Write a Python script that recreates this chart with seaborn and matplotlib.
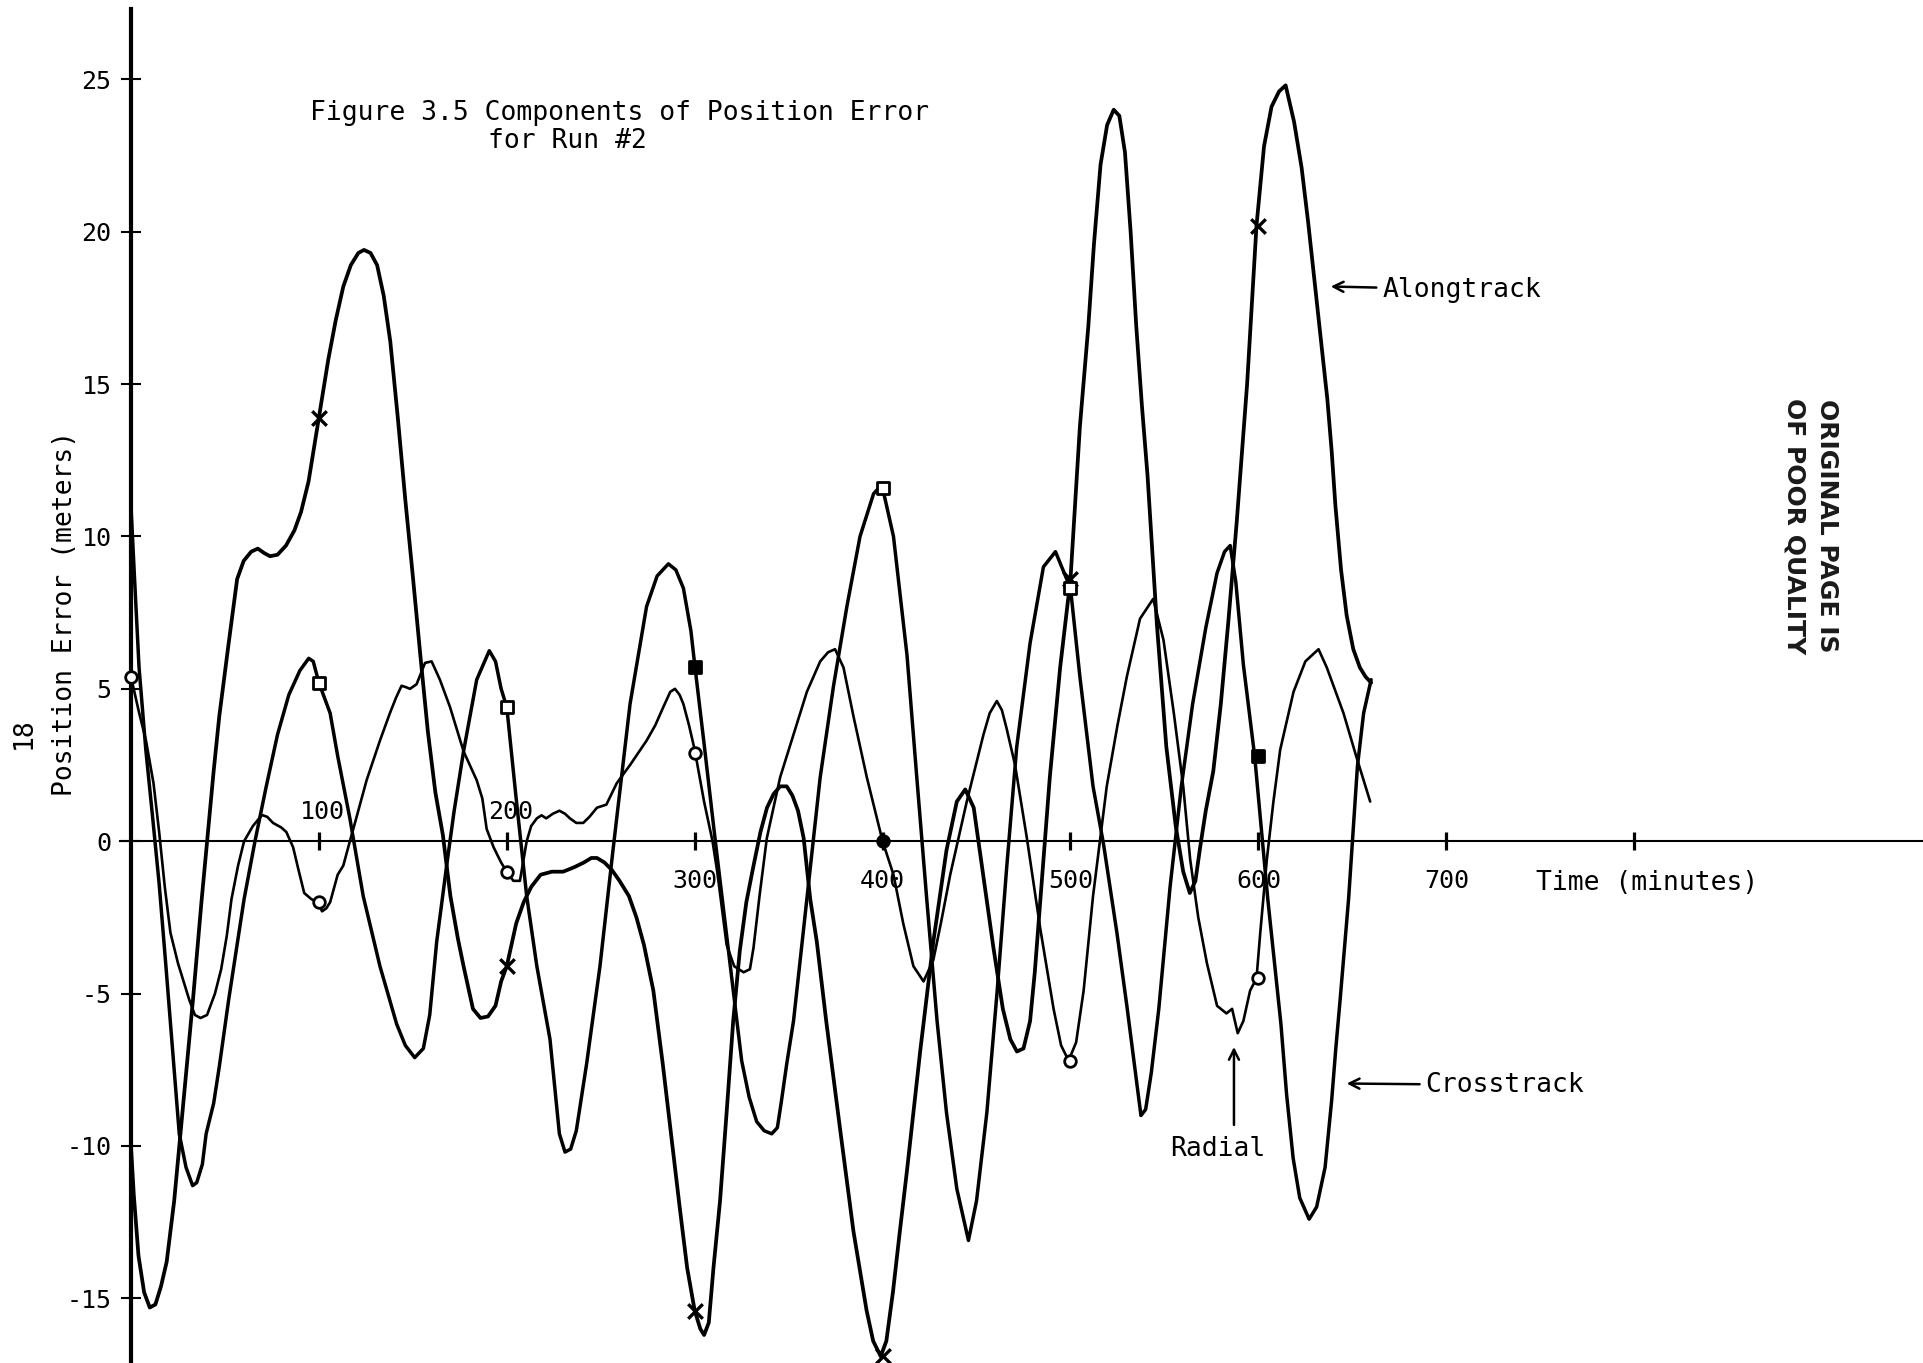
import matplotlib
matplotlib.use("Agg")
import matplotlib.pyplot as plt
import seaborn as sns

# ---------------- data ----------------
# Alongtrack component (x markers)
along_t = [0, 1.5, 4, 7, 10, 13, 16, 19, 23, 28, 33, 37.5, 40.5, 44, 47, 52, 56.5, 60, 64, 67.5,
           71, 74, 78, 82.5, 87, 90.5, 94.5, 100, 105, 109, 113, 117, 121, 124, 127.5, 131, 134.5,
           138, 142, 146, 150, 154, 158, 162, 166, 170, 174, 177, 182, 186, 190, 194, 197, 200,
           205, 209, 213, 218, 224, 230, 236, 241, 245, 248, 252, 256, 260, 265, 269, 273, 278,
           283, 288, 292, 296, 300, 303, 305, 307.5, 310, 313.5, 317, 320.5, 324, 327.5, 331, 335,
           338.5, 342, 345.5, 349, 352, 355, 358, 361.5, 365, 370, 377.5, 384.5, 391.5, 395, 399,
           402, 405.5, 409, 413, 420, 427, 434, 439.5, 444, 448.5, 453.5, 459, 464, 468, 471.5,
           475, 478.5, 481, 484, 489, 494.5, 500, 505, 509.5, 512.5, 516, 519.5, 523, 526, 529,
           532, 535, 538, 541, 546, 551, 556, 560, 563.5, 566.5, 569, 572, 576, 580, 584, 588.5,
           594, 599, 603, 607, 611, 614.5, 619, 623, 626.5, 630, 633, 636.7, 639, 641, 644, 647,
           650.5, 654, 657, 660]
along_y = [-10.0, -11.6, -13.6, -14.8, -15.3, -15.2, -14.6, -13.8, -11.8, -8.5, -5.2, -2.0, 0.0,
           2.3, 4.1, 6.5, 8.6, 9.2, 9.5, 9.6, 9.45, 9.35, 9.4, 9.7, 10.2, 10.8, 11.8, 13.9, 15.8,
           17.1, 18.2, 18.9, 19.3, 19.4, 19.3, 18.9, 17.9, 16.4, 13.9, 11.2, 8.7, 6.1, 3.6, 1.6,
           0.2, -1.8, -3.2, -4.1, -5.5, -5.8, -5.75, -5.4, -4.6, -4.1, -2.7, -2.0, -1.5, -1.1,
           -1.0, -1.0, -0.85, -0.7, -0.55, -0.55, -0.7, -0.95, -1.3, -1.8, -2.5, -3.4, -4.9, -7.3,
           -9.9, -12.0, -14.0, -15.4, -16.0, -16.2, -15.8, -14.0, -11.8, -8.9, -5.9, -3.6, -2.0,
           -0.9, 0.3, 1.1, 1.55, 1.8, 1.8, 1.5, 1.0, 0.1, -1.9, -3.3, -5.9, -9.5, -12.8, -15.4,
           -16.4, -16.9, -16.4, -14.8, -12.9, -10.8, -6.9, -3.3, -0.3, 1.3, 1.7, 1.1, -1.1, -3.5,
           -5.5, -6.5, -6.9, -6.8, -5.9, -4.3, -1.9, 2.1, 5.7, 8.6, 13.6, 16.9, 19.6, 22.2, 23.5,
           24.0, 23.8, 22.6, 20.0, 16.9, 14.3, 12.0, 7.1, 3.1, 0.5, -1.0, -1.7, -1.3, -0.2, 1.0,
           2.3, 4.5, 7.2, 10.5, 15.0, 20.2, 22.8, 24.1, 24.6, 24.8, 23.6, 22.1, 20.3, 18.3, 16.6,
           14.5, 12.8, 11.0, 8.9, 7.4, 6.3, 5.7, 5.4, 5.2]

# Crosstrack component (square markers)
cross_t = [0, 2, 4.3, 7.9, 11.5, 15, 18.6, 22.2, 25.7, 29.3, 32.8, 35, 38, 40, 44, 47, 52, 56,
           60.2, 66, 72, 78, 84, 89.9, 94.6, 97, 100, 103, 106, 110, 116.5, 123.6, 132.5, 141.4,
           146, 151, 155.6, 159, 162.7, 168, 172, 177, 184, 190.7, 194, 197, 200, 205, 210.6,
           216, 223, 228, 231, 234, 237, 242.5, 249.6, 256.7, 265.6, 274.4, 280, 286, 290, 294,
           298, 300, 305, 311, 318, 325, 329, 333, 337, 341, 344, 346, 349, 352.6, 359.7, 366.8,
           373.9, 381, 388, 395.2, 399.6, 405.8, 413, 418.2, 423.5, 429, 434, 439.5, 445.7, 450,
           455.5, 461, 466, 471.4, 478.5, 485.6, 492, 498, 500, 505, 512, 517.6, 524.7, 530, 535,
           537.5, 540, 543, 547, 553, 559, 565, 572, 578, 582, 585, 588, 592, 598, 605, 612, 615,
           618.5, 622, 627, 631, 635.5, 639, 641.2, 643.5, 648, 652.7, 656, 660]
cross_y = [11.0, 8.5, 5.7, 3.0, 0.8, -1.4, -4.1, -6.9, -9.6, -10.7, -11.3, -11.2, -10.6, -9.6,
           -8.6, -7.4, -5.2, -3.6, -1.9, 0.0, 1.8, 3.5, 4.8, 5.6, 6.0, 5.9, 5.2, 4.7, 4.2, 2.8,
           0.75, -1.8, -4.1, -6.0, -6.7, -7.1, -6.8, -5.7, -3.3, -0.8, 1.0, 2.95, 5.3, 6.25, 5.9,
           5.0, 4.4, 1.4, -1.8, -4.1, -6.5, -9.6, -10.2, -10.1, -9.5, -7.3, -4.1, -0.2, 4.5, 7.7,
           8.7, 9.1, 8.9, 8.3, 6.9, 5.8, 3.2, 0.0, -3.6, -7.2, -8.4, -9.2, -9.5, -9.6, -9.4, -8.6,
           -7.3, -5.9, -1.9, 2.1, 5.1, 7.7, 10.0, 11.4, 11.7, 10.0, 6.1, 2.1, -1.9, -5.9, -8.9,
           -11.4, -13.1, -11.8, -8.9, -4.9, -0.9, 3.1, 6.5, 9.0, 9.5, 8.6, 8.3, 5.4, 1.8, -0.1,
           -3.0, -5.4, -7.8, -9.0, -8.8, -7.6, -5.5, -1.5, 1.8, 4.5, 7.0, 8.8, 9.5, 9.7, 8.5, 5.8,
           2.8, -1.9, -6.0, -8.3, -10.4, -11.7, -12.4, -12.0, -10.7, -8.5, -6.8, -5.2, -1.9,
           2.45, 4.2, 5.3]

# Radial component (circle markers)
radial_t = [0, 4, 8, 12, 15, 18, 21, 25, 28, 31, 34, 37, 40.5, 44.7, 48, 51, 53.5, 57, 60.2,
            64.9, 69.7, 72.5, 75.6, 80, 82.7, 86.3, 89, 92.2, 96, 99.4, 101.7, 104, 106, 110, 113,
            116.5, 119.2, 125.4, 132.5, 137.8, 141, 144, 146.5, 148.5, 152, 156.5, 160, 164.4,
            169.8, 177, 184, 187, 189.3, 193, 197, 200, 203.5, 207, 210.6, 213, 216, 218.5, 221,
            224.5, 228, 231, 233.6, 237, 240.7, 244, 248, 253, 258.5, 265.6, 270, 274.4, 279,
            283.3, 287, 289.5, 292, 294, 297, 300, 305, 309.5, 312, 317, 321, 326, 329.4, 331.3,
            334.5, 338.4, 345.5, 352.6, 359.7, 366.8, 371, 374.7, 379.2, 384.5, 391.6, 396, 400,
            405.8, 411, 416.4, 421.8, 427, 431, 436, 444.8, 453.7, 457, 460.8, 463.5, 466, 470.5,
            476.8, 484, 491, 495, 499, 503, 507, 512, 519.3, 525, 530, 537, 544, 549.5, 555, 560,
            563.7, 568, 572.6, 578, 583, 586, 589, 592, 595.6, 599, 601, 604.5, 608, 611.6, 618.7,
            625, 632, 636.4, 645.3, 652, 659.5]
radial_y = [5.4, 4.3, 3.3, 1.9, 0.3, -1.5, -3.0, -4.0, -4.6, -5.2, -5.7, -5.8, -5.7, -5.0, -4.2,
            -3.1, -1.9, -0.8, 0.0, 0.5, 0.86, 0.8, 0.6, 0.45, 0.3, -0.2, -0.9, -1.7, -1.9, -2.0,
            -2.3, -2.2, -2.0, -1.1, -0.8, 0.0, 0.6, 2.0, 3.3, 4.2, 4.7, 5.1, 5.05, 5.0, 5.15,
            5.85, 5.9, 5.3, 4.4, 2.95, 2.0, 1.4, 0.4, -0.2, -0.7, -1.0, -1.3, -1.3, 0.0, 0.5,
            0.75, 0.85, 0.75, 0.9, 1.0, 0.9, 0.75, 0.6, 0.6, 0.8, 1.1, 1.2, 1.9, 2.5, 2.9, 3.3,
            3.8, 4.4, 4.9, 5.0, 4.8, 4.5, 3.8, 3.0, 1.3, 0.0, -1.0, -3.4, -4.1, -4.3, -4.2, -3.5,
            -1.8, 0.1, 2.1, 3.5, 4.9, 5.9, 6.2, 6.3, 5.7, 4.1, 2.1, 1.0, 0.0, -1.1, -2.7, -4.1,
            -4.6, -3.9, -2.7, -1.1, 1.3, 3.5, 4.2, 4.6, 4.3, 3.7, 2.5, 0.1, -2.9, -5.5, -6.7,
            -7.2, -6.6, -4.9, -1.8, 1.8, 3.8, 5.4, 7.3, 7.95, 6.6, 4.2, 1.8, -0.6, -2.5, -4.0,
            -5.4, -5.65, -5.5, -6.3, -5.9, -4.9, -4.5, -3.0, -0.6, 1.3, 3.0, 4.9, 5.9, 6.3, 5.7,
            4.2, 2.8, 1.3]

# plotting symbols every 100 minutes
along_mark_t = [100, 200, 300, 400, 500, 600]
along_mark_y = [13.9, -4.1, -15.4, -16.9, 8.6, 20.2]
cross_mark_t = [100, 200, 300, 400, 500, 600]
cross_mark_y = [5.2, 4.4, 5.7, 11.6, 8.3, 2.8]
cross_mark_filled = [False, False, True, False, False, True]
radial_mark_t = [0, 100, 200, 300, 400, 500, 600]
radial_mark_y = [5.4, -2.0, -1.0, 2.9, 0.0, -7.2, -4.5]
radial_mark_filled = [False, False, False, False, True, False, False]

xtick_vals = [100, 200, 300, 400, 500, 600, 700, 800]
xtick_labels = ["", "", "300", "400", "500", "600", "700", ""]
xtick_above = [(100, "100"), (200, "200")]
ytick_vals = [-15, -10, -5, 0, 5, 10, 15, 20, 25]
ytick_labels = ["-15", "-10", "-5", "0", "5", "10", "15", "20", "25"]

# ---------------- figure ----------------
sns.set_theme(style="white")
plt.rcParams["font.family"] = ["DejaVu Sans Mono", "DejaVu Sans"]
plt.rcParams["axes.unicode_minus"] = False

fig = plt.figure(figsize=(19.23, 13.63), dpi=100)
ax = fig.add_axes([0, 0, 1, 1])
ax.set_facecolor("white")

sns.lineplot(x=along_t, y=along_y, ax=ax, color="black", linewidth=2.7,
             sort=False, estimator=None)
sns.lineplot(x=cross_t, y=cross_y, ax=ax, color="black", linewidth=2.5,
             sort=False, estimator=None)
sns.lineplot(x=radial_t, y=radial_y, ax=ax, color="black", linewidth=1.9,
             sort=False, estimator=None)

# markers
sns.scatterplot(x=along_mark_t, y=along_mark_y, ax=ax, marker="x", color="black",
                s=110, linewidth=2.4, zorder=4)
cf = [(t, y) for t, y, f in zip(cross_mark_t, cross_mark_y, cross_mark_filled) if f]
ch = [(t, y) for t, y, f in zip(cross_mark_t, cross_mark_y, cross_mark_filled) if not f]
sns.scatterplot(x=[p[0] for p in ch], y=[p[1] for p in ch], ax=ax, marker="s",
                color="white", edgecolor="black", s=70, linewidth=2.0, zorder=4)
sns.scatterplot(x=[p[0] for p in cf], y=[p[1] for p in cf], ax=ax, marker="s",
                color="black", edgecolor="black", s=70, linewidth=2.0, zorder=4)
rf = [(t, y) for t, y, f in zip(radial_mark_t, radial_mark_y, radial_mark_filled) if f]
rh = [(t, y) for t, y, f in zip(radial_mark_t, radial_mark_y, radial_mark_filled) if not f]
sns.scatterplot(x=[p[0] for p in rh], y=[p[1] for p in rh], ax=ax, marker="o",
                color="white", edgecolor="black", s=70, linewidth=2.0, zorder=4)
sns.scatterplot(x=[p[0] for p in rf], y=[p[1] for p in rf], ax=ax, marker="o",
                color="black", edgecolor="black", s=70, linewidth=2.0, zorder=4)

# axes through the origin
ax.set_xlim(-69.7, 953.7)
ax.set_ylim(-17.12, 27.6)
for side in ("top", "right"):
    ax.spines[side].set_visible(False)
ax.spines["left"].set_position(("data", 0))
ax.spines["bottom"].set_position(("data", 0))
ax.spines["left"].set_bounds(-17.12, 27.3)
ax.spines["bottom"].set_bounds(-6, 953.7)
ax.spines["left"].set_linewidth(3.0)
ax.spines["bottom"].set_linewidth(1.5)
ax.spines["left"].set_color("black")
ax.spines["bottom"].set_color("black")

ax.set_xticks(xtick_vals, xtick_labels)
ax.set_yticks(ytick_vals, ytick_labels)
ax.tick_params(axis="x", bottom=True, top=False, direction="inout", length=13.5, width=2.3,
               pad=13.5, labelsize=18, colors="black")
ax.tick_params(axis="y", left=True, right=False, direction="inout", length=14, width=1.5,
               pad=7, labelsize=18, colors="black")
for xv, lab in xtick_above:
    ax.text(xv + 2, 0.57, lab, ha="center", va="bottom", fontsize=18, color="black")

ax.set_xlabel("Time (minutes)", fontsize=19, color="black")
ax.xaxis.set_label_coords(0.8566, 0.362)
ax.set_ylabel("Position Error (meters)", fontsize=19, color="black")
ax.yaxis.set_label_coords(0.0405, 0.5503)
ax.grid(False)

# title lines
fig.text(0.1612, 0.9172, "Figure 3.5 Components of Position Error", ha="left",
         va="center", fontsize=19, color="black")
fig.text(0.2538, 0.8965, "for Run #2", ha="left", va="center", fontsize=19, color="black")

# curve annotations
arrow_kw = dict(arrowstyle="->", lw=1.8, color="black", mutation_scale=18,
                shrinkA=2, shrinkB=0)
ax.annotate("Alongtrack", xy=(638.5, 18.2), xytext=(666, 18.1), ha="left", va="center",
            fontsize=19, color="black", arrowprops=arrow_kw)
ax.annotate("Crosstrack", xy=(647, -7.95), xytext=(689, -8.0), ha="left", va="center",
            fontsize=19, color="black", arrowprops=arrow_kw)
ax.text(578.4, -10.1, "Radial", ha="center", va="center", fontsize=19, color="black")
ax.annotate("", xy=(587, -6.75), xytext=(587, -9.4), arrowprops=arrow_kw)

# page furniture
fig.text(0.0125, 0.462, "18", rotation=90, ha="center", va="center", fontsize=19,
         color="black")
fig.text(0.9414, 0.614, "ORIGINAL PAGE IS\nOF POOR QUALITY", rotation=-90, ha="center",
         va="center", fontsize=18, fontweight="bold", family=["DejaVu Sans"],
         linespacing=1.45, color="#1a1a1a")

fig.savefig("out.png", dpi=100)
